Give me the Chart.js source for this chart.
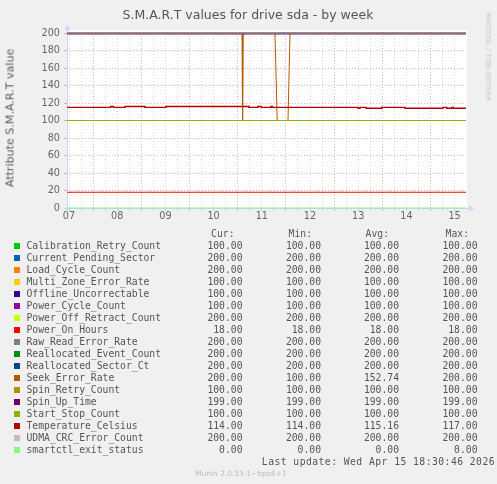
<!DOCTYPE html>
<html>
<head>
<meta charset="utf-8">
<script src="https://cdn.jsdelivr.net/npm/chart.js@4.4.1/dist/chart.umd.min.js"></script>
<style>
  body { margin: 0; background: #f0f0f0; }
  #wrap { position: relative; width: 497px; height: 484px; overflow: hidden; background: #f0f0f0; }
  #c { position: absolute; left: 0; top: 0; }
  .txt { position: absolute; white-space: pre; font-family: 'DejaVu Sans', sans-serif; color: #666; }
  .mono { position: absolute; white-space: pre; font-family: 'DejaVu Sans Mono', monospace; font-size: 9.72px; line-height: 12px; height: 12px; color: #555; }
  .sw { position: absolute; width: 6px; height: 6px; }
</style>
</head>
<body>
<div id="wrap">
  <canvas id="c" width="497" height="484" style="width:497px;height:484px"></canvas>
  <div class="txt" id="title" style="left:248px;top:14px;transform:translate(-50%,-50%);font-size:12.5px;color:#555">S.M.A.R.T values for drive sda - by week</div>
  <div class="txt" id="ylab" style="left:10px;top:118px;transform:translate(-50%,-50%) rotate(-90deg);font-size:11.1px;color:#5a5a5a">Attribute S.M.A.R.T value</div>
  <div class="txt" id="wm" style="left:488px;top:57px;transform:translate(-50%,-50%) rotate(90deg);font-size:6.9px;color:#c8c8c8">RRDTOOL / TOBI OETIKER</div>
  <div class="txt" id="munin" style="left:241px;top:473px;transform:translate(-50%,-50%);font-size:7.4px;color:#bbb">Munin 2.0.33-1~bpo8+1</div>
  <div id="legend"></div>
</div>
<script>
// time axis in days of April (noon of the 7th = 7.5)
const startDay = 7.458;
const endDay = 15.736;

const categories = ['Calibration_Retry_Count', 'Current_Pending_Sector', 'Load_Cycle_Count',
  'Multi_Zone_Error_Rate', 'Offline_Uncorrectable', 'Power_Cycle_Count', 'Power_Off_Retract_Count',
  'Power_On_Hours', 'Raw_Read_Error_Rate', 'Reallocated_Event_Count', 'Reallocated_Sector_Ct',
  'Seek_Error_Rate', 'Spin_Retry_Count', 'Spin_Up_Time', 'Start_Stop_Count',
  'Temperature_Celsius', 'UDMA_CRC_Error_Count', 'smartctl_exit_status'];

const colors = ['#00CC00', '#0066B3', '#FF8000', '#FFCC00', '#330099', '#990099', '#CCFF00',
  '#FF0000', '#808080', '#008F00', '#00487D', '#B35A00', '#B38F00', '#6B006B', '#8FB300',
  '#B30000', '#BEBEBE', '#80FF80'];

// flat series (null = has its own time series below)
const levels = [100, 200, 200, 100, 100, 100, 200, 18, 200, 200, 200, null, 100, 199, 100, null, 200, 0];

// Seek_Error_Rate drops
const seekTimes  = [7.458, 11.089, 11.101, 11.114, 11.773, 11.819, 12.043, 12.085, 15.736];
const seekValues = [200, 200, 100, 200, 200, 100, 100, 200, 200];

// Temperature_Celsius steps
const tempTimes  = [7.458, 8.365, 8.419, 8.661, 9.076, 9.512, 11.234, 11.414, 11.483, 11.690,
  11.717, 13.495, 13.537, 13.661, 13.987, 14.470, 15.259, 15.336, 15.440, 15.473, 15.736];
const tempValues = [115, 116, 115, 116, 115, 116, 115, 116, 115, 116,
  115, 114, 115, 114, 115, 114, 115, 114, 115, 114, 114];

// legend columns
const curVals = [100, 200, 200, 100, 100, 100, 200, 18, 200, 200, 200, 200, 100, 199, 100, 114, 200, 0];
const minVals = [100, 200, 200, 100, 100, 100, 200, 18, 200, 200, 200, 100, 100, 199, 100, 114, 200, 0];
const avgVals = [100, 200, 200, 100, 100, 100, 200, 18, 200, 200, 200, 152.74, 100, 199, 100, 115.16, 200, 0];
const maxVals = [100, 200, 200, 100, 100, 100, 200, 18, 200, 200, 200, 200, 100, 199, 100, 117, 200, 0];
const lastUpdate = 'Last update: Wed Apr 15 18:30:46 2026';

const yTicks = [0, 20, 40, 60, 80, 100, 120, 140, 160, 180, 200];

function pad2(n) { return (n < 10 ? '0' : '') + n; }
function zip(ts, vs) { return ts.map((t, i) => ({ x: t, y: vs[i] })); }

const datasets = categories.map((name, i) => {
  let data;
  if (name === 'Seek_Error_Rate') data = zip(seekTimes, seekValues);
  else if (name === 'Temperature_Celsius') data = zip(tempTimes, tempValues);
  else data = zip([startDay, endDay], [levels[i], levels[i]]);
  return {
    label: name,
    data: data,
    borderColor: colors[i],
    backgroundColor: colors[i],
    borderWidth: (name === 'Temperature_Celsius' || name === 'Spin_Up_Time') ? 1.4 : 1,
    pointRadius: 0,
    stepped: name === 'Temperature_Celsius',
    clip: 3,
    order: categories.length - i // later series on top, like rrdtool
  };
});

const majorGrid = 'rgba(235, 90, 90, 0.5)';
const minorGrid = 'rgba(150, 150, 150, 0.4)';
const axisColor = '#CFD6F8';

function isMajorX(v) { return Math.abs(v - Math.round(v)) < 1e-6; }

// white canvas + rrdtool style axes with arrows
const rrdPlugin = {
  id: 'rrd',
  beforeDraw(chart) {
    const a = chart.chartArea, ctx = chart.ctx;
    ctx.save();
    ctx.fillStyle = '#fff';
    ctx.fillRect(a.left, a.top - 3, a.right - a.left + 1, a.bottom - a.top + 3);
    ctx.restore();
  },
  beforeDatasetsDraw(chart) {
    const a = chart.chartArea, ctx = chart.ctx;
    ctx.save();
    ctx.strokeStyle = axisColor;
    ctx.fillStyle = axisColor;
    ctx.lineWidth = 1;
    ctx.beginPath();
    ctx.moveTo(a.left - 3, a.bottom + 0.5);
    ctx.lineTo(a.right + 4, a.bottom + 0.5);
    ctx.moveTo(a.left + 0.5, a.bottom + 3);
    ctx.lineTo(a.left + 0.5, a.top - 4);
    ctx.stroke();
    ctx.beginPath();
    ctx.moveTo(a.right + 8, a.bottom + 0.5);
    ctx.lineTo(a.right + 3, a.bottom - 2.5);
    ctx.lineTo(a.right + 3, a.bottom + 3.5);
    ctx.closePath();
    ctx.fill();
    ctx.beginPath();
    ctx.moveTo(a.left + 0.5, a.top - 8);
    ctx.lineTo(a.left - 2.5, a.top - 3);
    ctx.lineTo(a.left + 3.5, a.top - 3);
    ctx.closePath();
    ctx.fill();
    ctx.restore();
  }
};

Chart.defaults.font.family = "'DejaVu Sans', sans-serif";
Chart.defaults.font.size = 9.7;
Chart.defaults.color = '#666';

new Chart(document.getElementById('c'), {
  type: 'line',
  data: { datasets: datasets },
  options: {
    responsive: false,
    animation: false,
    events: [],
    layout: { padding: { left: 0, top: 33, right: 31, bottom: 256 } },
    plugins: { legend: { display: false }, tooltip: { enabled: false } },
    scales: {
      x: {
        type: 'linear',
        bounds: 'data',
        min: startDay,
        max: endDay,
        afterBuildTicks(axis) {
          const t = [];
          for (let d = 7; d <= 15; d++) {
            [0, 0.25, 0.5, 0.75].forEach(q => {
              const v = d + q;
              if (v >= startDay && v <= endDay) t.push({ value: v });
            });
          }
          axis.ticks = t;
        },
        afterFit(axis) { axis.height = 20; },
        ticks: {
          autoSkip: false,
          maxRotation: 0,
          padding: 0,
          color: '#666',
          callback: v => (Math.abs(v % 1 - 0.5) < 1e-6 ? pad2(Math.floor(v)) : '')
        },
        grid: {
          color: c => (isMajorX(c.tick.value) ? majorGrid : minorGrid),
          tickColor: c => (isMajorX(c.tick.value) ? majorGrid : minorGrid),
          tickLength: 3,
          lineWidth: 1
        },
        border: { display: false, dash: [1, 2] }
      },
      y: {
        min: 0,
        max: 200,
        afterFit(axis) { axis.width = 67; },
        ticks: {
          stepSize: 10,
          padding: 4,
          color: '#666',
          callback: v => (yTicks.includes(v) ? String(v) : '')
        },
        grid: {
          color: c => (c.tick.value % 20 === 0 ? majorGrid : minorGrid),
          tickColor: c => (c.tick.value % 20 === 0 ? majorGrid : minorGrid),
          tickLength: 3,
          lineWidth: 1
        },
        border: { display: false, dash: [1, 2] }
      }
    }
  },
  plugins: [rrdPlugin]
});

// legend table
const legend = document.getElementById('legend');
function addText(cls, text, left, top, right) {
  const d = document.createElement('div');
  d.className = cls;
  d.textContent = text;
  d.style.top = top + 'px';
  if (right !== undefined) { d.style.right = (497 - right) + 'px'; }
  else d.style.left = left + 'px';
  legend.appendChild(d);
  return d;
}
const cols = [
  { head: 'Cur:', headRight: 234.5, valRight: 242.5, vals: curVals },
  { head: 'Min:', headRight: 312, valRight: 321, vals: minVals },
  { head: 'Avg:', headRight: 389, valRight: 399, vals: avgVals },
  { head: 'Max:', headRight: 469, valRight: 477.5, vals: maxVals }
];
const rowTop = 245.7, rowStep = 12;
cols.forEach(c => addText('mono', c.head, 0, rowTop - rowStep - 6, c.headRight));
categories.forEach((name, i) => {
  const cy = rowTop + i * rowStep;
  const sw = document.createElement('div');
  sw.className = 'sw';
  sw.style.left = '14px';
  sw.style.top = (cy - 3) + 'px';
  sw.style.background = colors[i];
  legend.appendChild(sw);
  addText('mono', name, 26.5, cy - 6);
  cols.forEach(c => addText('mono', c.vals[i].toFixed(2), 0, cy - 6, c.valRight));
});
const lu = addText('mono', lastUpdate, 0, 462.3 - 6, 495);
lu.style.letterSpacing = '0.45px';
</script>
</body>
</html>
